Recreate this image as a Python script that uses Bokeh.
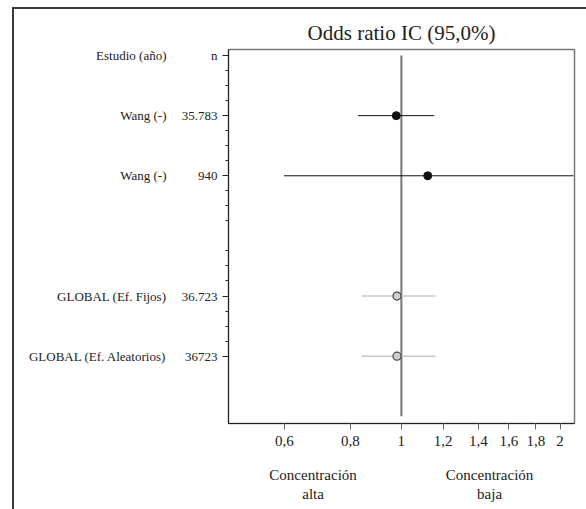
from bokeh.plotting import figure
from bokeh.models import (Range1d, FixedTicker, LinearAxis, LogAxis,
                          CustomJSTickFormatter, ColumnDataSource)
from bokeh.embed import file_html
from bokeh.resources import INLINE

# ---- data ----
studies = ["Wang (-)", "Wang (-)", "GLOBAL (Ef. Fijos)", "GLOBAL (Ef. Aleatorios)"]
n_vals = ["35.783", "940", "36.723", "36723"]
rows = [1, 2, 4, 5]
odds = [0.978, 1.122, 0.981, 0.981]
ci_low = [0.827, 0.599, 0.841, 0.841]
ci_high = [1.155, 2.12, 1.16, 1.16]
is_global = [False, False, True, True]
header_row = 0
header_study = "Estudio (año)"
header_n = "n"
x_ticks = [0.6, 0.8, 1, 1.2, 1.4, 1.6, 1.8, 2]
title_text = "Odds ratio IC (95,0%)"
note_pos = [0.68, 1.47]
note_line1 = ["Concentración", "Concentración"]
note_line2 = ["alta", "baja"]

FONT = "Liberation Serif"
W, H = 586, 509
TXT = "#222222"

p = figure(width=W, height=H, x_axis_type="log",
           x_range=Range1d(0.47, 2.13), y_range=Range1d(6.12, -0.1),
           output_backend="svg", toolbar_location=None,
           min_border_left=228, min_border_right=12,
           min_border_top=49, min_border_bottom=86)
p.grid.visible = False
p.outline_line_color = "#777777"
p.outline_line_width = 1.5
p.background_fill_color = "white"
p.border_fill_color = None
# outer panel border (top and left edges), drawn behind the transparent canvas
p.styles = {
    "background-color": "white",
    "background-image": "linear-gradient(#3a3a3a,#3a3a3a), linear-gradient(#3a3a3a,#3a3a3a)",
    "background-size": "575px 2px, 2px 503px",
    "background-position": "12px 7px, 12px 7px",
    "background-repeat": "no-repeat",
}

p.title.text = title_text
p.title.align = "center"
p.title.text_font = FONT
p.title.text_font_size = "21px"
p.title.text_font_style = "normal"
p.title.text_color = TXT
p.title.standoff = 9

# x axis
xa = p.xaxis[0]
xa.ticker = FixedTicker(ticks=x_ticks, minor_ticks=[])
xa.formatter = CustomJSTickFormatter(code="return tick.toString().replace('.', ',');")
xa.major_label_text_font = FONT
xa.major_label_text_font_size = "15px"
xa.major_label_text_color = TXT
xa.major_tick_in = 0
xa.major_tick_out = 6
xa.major_tick_line_color = "#666666"
xa.minor_tick_line_color = None
xa.axis_line_color = "#222222"
xa.major_label_standoff = 6


def note_axis(labels, standoff):
    ax = LogAxis(ticker=FixedTicker(ticks=note_pos, minor_ticks=[]))
    ax.formatter = CustomJSTickFormatter(
        args=dict(pos=note_pos, labels=labels),
        code="let best = 0; for (let i = 0; i < pos.length; i++) {"
             " if (Math.abs(pos[i] - tick) < Math.abs(pos[best] - tick)) best = i; }"
             " return labels[best];")
    ax.major_label_text_font = FONT
    ax.major_label_text_font_size = "15px"
    ax.major_label_text_color = TXT
    ax.major_tick_line_color = None
    ax.minor_tick_line_color = None
    ax.axis_line_color = None
    ax.major_label_standoff = standoff
    p.add_layout(ax, "below")


note_axis(note_line1, 12)
note_axis(note_line2, -6)

# y axis (n)
tick_rows = [header_row] + rows
minor = [r + f for r in range(0, 5) for f in (0.25, 0.5, 0.75)]
ya = p.yaxis[0]
ya.ticker = FixedTicker(ticks=tick_rows, minor_ticks=minor)
ya.major_label_overrides = {r: t for r, t in zip(tick_rows, [header_n] + n_vals)}
ya.major_label_text_font = FONT
ya.major_label_text_font_size = "13px"
ya.major_label_text_color = TXT
ya.major_tick_in = 0
ya.major_tick_out = 6
ya.minor_tick_in = 0
ya.minor_tick_out = 3
ya.major_tick_line_color = "#222222"
ya.minor_tick_line_color = "#222222"
ya.axis_line_color = "#222222"
ya.major_label_standoff = 5

# y axis (study names)
ya2 = LinearAxis(ticker=FixedTicker(ticks=tick_rows, minor_ticks=[]))
ya2.major_label_overrides = {r: t for r, t in zip(tick_rows, [header_study] + studies)}
ya2.major_label_text_font = FONT
ya2.major_label_text_font_size = "13px"
ya2.major_label_text_color = TXT
ya2.major_tick_line_color = None
ya2.minor_tick_line_color = None
ya2.axis_line_color = None
ya2.major_label_standoff = 6
p.add_layout(ya2, "left")

# reference line at OR = 1
p.segment(x0=[1], x1=[1], y0=[header_row], y1=[max(rows) + 1],
          line_color="#777777", line_width=2)

src_s = ColumnDataSource(dict(y=[r for r, g in zip(rows, is_global) if not g],
                              o=[v for v, g in zip(odds, is_global) if not g],
                              lo=[v for v, g in zip(ci_low, is_global) if not g],
                              hi=[v for v, g in zip(ci_high, is_global) if not g]))
src_g = ColumnDataSource(dict(y=[r for r, g in zip(rows, is_global) if g],
                              o=[v for v, g in zip(odds, is_global) if g],
                              lo=[v for v, g in zip(ci_low, is_global) if g],
                              hi=[v for v, g in zip(ci_high, is_global) if g]))

p.segment(x0="lo", x1="hi", y0="y", y1="y", source=src_s, line_color="#111111", line_width=1)
p.segment(x0="lo", x1="hi", y0="y", y1="y", source=src_g, line_color="#c8c8c8", line_width=1.5)
p.scatter(x="o", y="y", source=src_s, size=8, fill_color="#111111", line_color="#111111")
p.scatter(x="o", y="y", source=src_g, size=8, fill_color="#cfcfcf", line_color="#444444", line_width=1.2)

open("out.html", "w").write(file_html(p, INLINE))
